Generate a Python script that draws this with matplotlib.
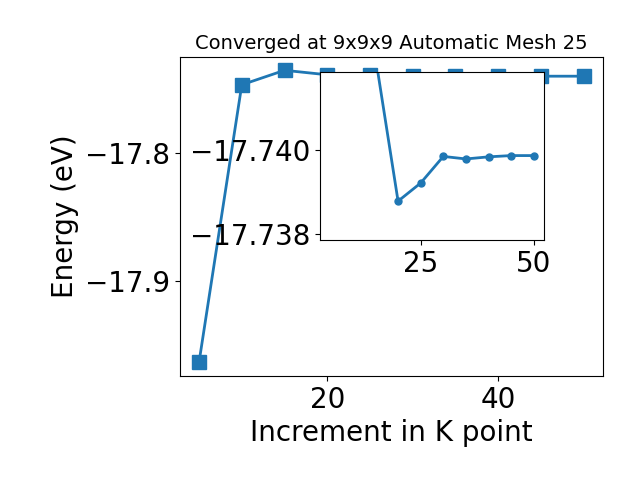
import matplotlib
matplotlib.use("Agg")
import matplotlib.pyplot as plt

# main scan over k-point increments
kpoints = [5, 10, 15, 20, 25, 30, 35, 40, 45, 50]
energy = [-17.9632, -17.7466, -17.7353, -17.7388, -17.7392, -17.7398, -17.7398, -17.7398, -17.7399, -17.7399]

# zoomed-in values shown in the inset
inset_kpoints = [15, 20, 25, 30, 35, 40, 45, 50]
inset_energy = [-17.7422, -17.73878, -17.73921, -17.73984, -17.73978, -17.73983, -17.73986, -17.73986]

fig = plt.figure(figsize=(6.4, 4.8), dpi=100)
ax = fig.add_axes([0.281, 0.217, 0.661, 0.664])
ax.plot(kpoints, energy, marker="s", markersize=10, linewidth=2, color="C0")
ax.set_yticks([-17.9, -17.8])
ax.set_xticks([20, 40])
ax.set_ylim(-17.974, -17.725)
ax.tick_params(labelsize=20)
ax.set_xlabel("Increment in K point", fontsize=20)
ax.set_ylabel("Energy (eV)", fontsize=20)
ax.set_title("Converged at 9x9x9 Automatic Mesh 25", fontsize=14)

ins = fig.add_axes([0.5, 0.5, 0.35, 0.35])
ins.plot(inset_kpoints, inset_energy, marker="o", markersize=5, linewidth=2, color="C0")
ins.set_xlim(ax.get_xlim())
ins.set_ylim(-17.73786, -17.74184)
ins.set_xticks([25, 50])
ins.set_yticks([-17.740, -17.738])
ins.ticklabel_format(axis="y", useOffset=False)
ins.tick_params(labelsize=20)

fig.savefig("out.png", dpi=100)
